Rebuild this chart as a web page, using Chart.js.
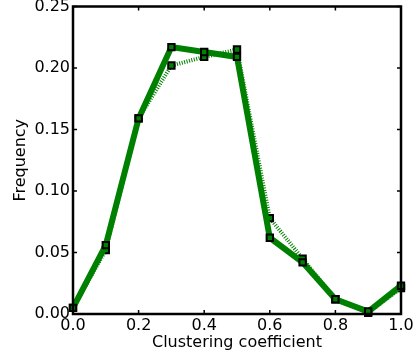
<!DOCTYPE html>
<html>
<head>
<meta charset="utf-8">
<script src="https://cdn.jsdelivr.net/npm/chart.js@4/dist/chart.umd.min.js"></script>
<style>
  html, body { margin: 0; padding: 0; background: #fff; }
  #wrap { width: 415px; height: 363px; }
</style>
</head>
<body>
<div id="wrap"><canvas id="chart" width="415" height="363"></canvas></div>
<script>
// valors llegits de la figura
const clustering = [0.0, 0.1, 0.2, 0.3, 0.4, 0.5, 0.6, 0.7, 0.8, 0.9, 1.0];
const freqSolid  = [0.005, 0.056, 0.159, 0.217, 0.213, 0.209, 0.062, 0.042, 0.012, 0.002, 0.023];
const freqDotted = [0.005, 0.052, 0.159, 0.202, 0.209, 0.215, 0.078, 0.045, 0.012, 0.001, 0.021];
const xTicks = [0.0, 0.2, 0.4, 0.6, 0.8, 1.0];
const yTicks = [0.00, 0.05, 0.10, 0.15, 0.20, 0.25];

const GREEN = "#008000";
const FONT = "'DejaVu Sans', sans-serif";

function toPoints(xs, ys){
  return xs.map((x, i) => ({ x, y: ys[i] }));
}

/** Marc negre i marques cap a dins (estil matplotlib) */
const framePlugin = {
  id: "frame",
  afterDraw(chart){
    const { ctx, chartArea: a, scales } = chart;
    ctx.save();
    ctx.strokeStyle = "#000";
    ctx.lineWidth = 1.5;
    const len = 4;
    ctx.beginPath();
    xTicks.forEach(v => {
      const px = scales.x.getPixelForValue(v);
      ctx.moveTo(px, a.bottom); ctx.lineTo(px, a.bottom - len);
      ctx.moveTo(px, a.top);    ctx.lineTo(px, a.top + len);
    });
    yTicks.forEach(v => {
      const py = scales.y.getPixelForValue(v);
      ctx.moveTo(a.left, py);  ctx.lineTo(a.left + len, py);
      ctx.moveTo(a.right, py); ctx.lineTo(a.right - len, py);
    });
    ctx.stroke();
    ctx.lineWidth = 2.5;
    ctx.strokeRect(a.left, a.top, a.right - a.left, a.bottom - a.top);
    ctx.restore();
  }
};

new Chart(document.getElementById("chart"), {
  type: "scatter",
  data: {
    datasets: [
      {
        data: toPoints(clustering, freqSolid),
        showLine: true,
        borderColor: GREEN,
        borderWidth: 6,
        backgroundColor: GREEN,
        pointStyle: "rect",
        pointRadius: 4.5,
        pointBorderColor: "#000",
        pointBorderWidth: 2,
        pointBackgroundColor: GREEN,
        order: 1
      },
      {
        data: toPoints(clustering, freqDotted),
        showLine: true,
        borderColor: GREEN,
        borderWidth: 4,
        borderDash: [1, 1.5],
        borderCapStyle: "butt",
        backgroundColor: GREEN,
        pointStyle: "rect",
        pointRadius: 4.5,
        pointBorderColor: "#000",
        pointBorderWidth: 2,
        pointBackgroundColor: GREEN,
        order: 2
      }
    ]
  },
  options: {
    responsive: false,
    animation: false,
    clip: false,
    layout: { padding: { left: 11, top: 6, right: 14, bottom: 11 } },
    plugins: { legend: { display: false }, tooltip: { enabled: false } },
    scales: {
      x: {
        type: "linear",
        min: 0, max: 1,
        afterBuildTicks: s => { s.ticks = xTicks.map(v => ({ value: v })); },
        afterFit: s => { s.height = 38; s.paddingLeft = 0; s.paddingRight = 0; },
        grid: { display: false, drawTicks: false },
        border: { display: false },
        ticks: {
          color: "#000",
          padding: 2,
          maxRotation: 0,
          font: { family: FONT, size: 16 },
          callback: v => v.toFixed(1)
        },
        title: {
          display: true,
          text: "Clustering coefficient",
          color: "#000",
          font: { family: FONT, size: 16 },
          padding: { top: 0, bottom: 0 }
        }
      },
      y: {
        type: "linear",
        min: 0, max: 0.25,
        afterBuildTicks: s => { s.ticks = yTicks.map(v => ({ value: v })); },
        afterFit: s => { s.width = 62; s.paddingTop = 0; s.paddingBottom = 0; },
        grid: { display: false, drawTicks: false },
        border: { display: false },
        ticks: {
          color: "#000",
          padding: 3,
          font: { family: FONT, size: 16 },
          callback: v => v.toFixed(2)
        },
        title: {
          display: true,
          text: "Frequency",
          color: "#000",
          font: { family: FONT, size: 16 },
          padding: { top: 0, bottom: 0 }
        }
      }
    }
  },
  plugins: [framePlugin]
});
</script>
</body>
</html>
